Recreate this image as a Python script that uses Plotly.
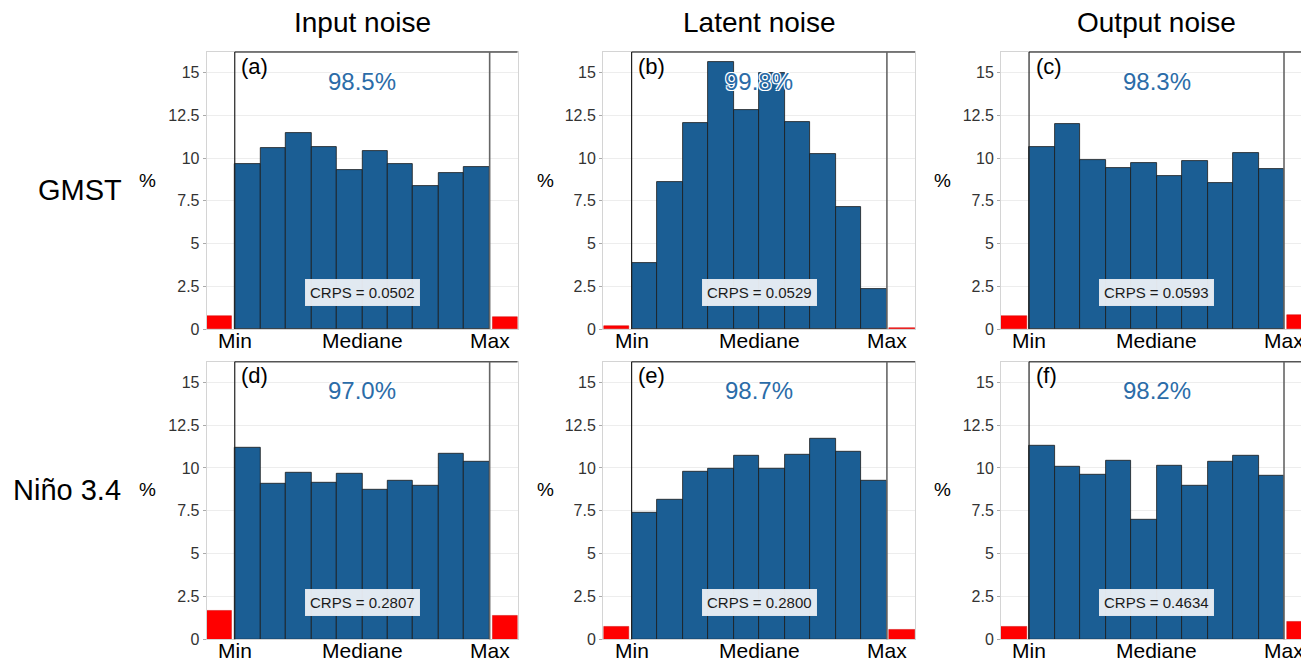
import plotly.graph_objects as go

# ---------------- data ----------------
col_titles = ["Input noise", "Latent noise", "Output noise"]
row_titles = ["GMST", "Niño 3.4"]
panel_tags = ["(a)", "(b)", "(c)", "(d)", "(e)", "(f)"]
x_tick_vals = [0, 5, 10]
x_tick_labels = ["Min", "Mediane", "Max"]
y_tick_vals = [0, 2.5, 5, 7.5, 10, 12.5, 15]
y_tick_text = ["0", "2.5", "5", "7.5", "10", "12.5", "15"]

gmst_input = [9.63, 10.60, 11.48, 10.66, 9.28, 10.39, 9.63, 8.34, 9.14, 9.49]
gmst_latent = [3.87, 8.61, 12.03, 15.64, 12.83, 15.00, 12.09, 10.25, 7.13, 2.34]
gmst_output = [10.64, 11.99, 9.90, 9.43, 9.71, 8.95, 9.84, 8.55, 10.27, 9.34]
nino_input = [11.17, 9.10, 9.75, 9.14, 9.67, 8.72, 9.24, 8.97, 10.82, 10.37]
nino_latent = [7.37, 8.17, 9.81, 9.96, 10.74, 9.96, 10.78, 11.69, 10.95, 9.24]
nino_output = [11.28, 10.10, 9.63, 10.45, 6.98, 10.16, 8.97, 10.35, 10.72, 9.55]

below_min = [0.78, 0.15, 0.78, 1.65, 0.76, 0.76]
above_max = [0.70, 0.05, 0.82, 1.38, 0.58, 1.01]
coverage = ["98.5%", "99.8%", "98.3%", "97.0%", "98.7%", "98.2%"]
crps = ["0.0502", "0.0529", "0.0593", "0.2807", "0.2800", "0.4634"]

panels = [gmst_input, gmst_latent, gmst_output, nino_input, nino_latent, nino_output]
bin_centers = [i + 0.5 for i in range(10)]

# ---------------- style / layout ----------------
FONT = "Liberation Sans, Arial, sans-serif"
BLUE = "#1b5e94"
PCT_BLUE = "#2b6ca8"
OFF = 8  # page body margin
W, H = 1309 - OFF, 662 - OFF


def fx(px):
    return (px - OFF) / W


def fy(py):
    return 1 - (py - OFF) / H


x_domains = [[fx(206.7), fx(517.7)], [fx(603), fx(915)], [fx(1001), 1.0]]
x_ranges = [[-1.1, 11.1], [-1.12, 11.1], [-1.1, 10.98]]
y_domains = [[fy(329), fy(52)], [fy(639.3), fy(361.7)]]
y_range = [0, 16.2]

fig = go.Figure()
shapes = []
annotations = []

for k, vals in enumerate(panels):
    r, c = divmod(k, 3)
    idx = "" if k == 0 else str(k + 1)
    xa, ya = "x" + idx, "y" + idx
    fig.add_trace(go.Bar(
        x=bin_centers, y=vals, width=1.0, xaxis=xa, yaxis=ya,
        marker=dict(color=BLUE, line=dict(color="#1a1a1a", width=0.8)),
        showlegend=False, hoverinfo="y"))
    fig.add_trace(go.Bar(
        x=[-0.6, 10.6], y=[below_min[k], above_max[k]], width=1.0,
        xaxis=xa, yaxis=ya,
        marker=dict(color="#ff0000", line=dict(color="#d00000", width=0.5)),
        showlegend=False, hoverinfo="y"))

    fig.layout["xaxis" + idx] = dict(
        domain=x_domains[c], range=x_ranges[c], anchor=ya, automargin=False,
        showticklabels=False, showgrid=False, zeroline=False, ticks="",
        showline=True, mirror=True, linecolor="#d4d4d4", linewidth=1)
    fig.layout["yaxis" + idx] = dict(
        domain=y_domains[r], range=y_range, anchor=xa, automargin=False,
        tickvals=y_tick_vals, ticktext=y_tick_text,
        tickfont=dict(size=16, color="#333", family=FONT),
        ticks="outside", ticklen=3, tickcolor="#aaa",
        showgrid=True, gridcolor="#ededed", gridwidth=1, zeroline=False,
        showline=True, mirror=True, linecolor="#d4d4d4", linewidth=1)

    # x tick labels placed right under the axis
    for tv, tl in zip(x_tick_vals, x_tick_labels):
        annotations.append(dict(xref=xa, yref=ya + " domain", x=tv, y=0, text=tl,
                                showarrow=False, xanchor="center", yanchor="top",
                                yshift=2,
                                font=dict(size=21, color="#000", family=FONT)))

    # top border (dark) and Min / Max lines
    shapes.append(dict(type="line", xref=xa, yref=ya + " domain",
                       x0=0, x1=x_ranges[c][1], y0=1, y1=1,
                       line=dict(color="#555", width=1.5)))
    shapes.append(dict(type="line", xref=xa, yref=ya + " domain",
                       x0=0, x1=0, y0=0, y1=1, line=dict(color="#222", width=1.2)))
    shapes.append(dict(type="line", xref=xa, yref=ya + " domain",
                       x0=10, x1=10, y0=0, y1=1, line=dict(color="#666", width=1.6)))

    annotations.append(dict(xref=xa, yref=ya, x=0.18, y=15.37, text=panel_tags[k],
                            showarrow=False, xanchor="left", yanchor="middle",
                            font=dict(size=22, color="#000", family=FONT)))
    annotations.append(dict(xref=xa, yref=ya, x=5, y=14.5, text=coverage[k],
                            showarrow=False, xanchor="center", yanchor="middle",
                            font=dict(size=24, color=PCT_BLUE, family=FONT,
                                      shadow="1px 1px 0 #fff, -1px -1px 0 #fff, 1px -1px 0 #fff, -1px 1px 0 #fff")))
    annotations.append(dict(xref=xa, yref=ya, x=5, y=2.15, text="CRPS = " + crps[k],
                            showarrow=False, xanchor="center", yanchor="middle",
                            bgcolor="rgba(236,240,245,0.95)", bordercolor="#dde4ec",
                            borderwidth=1, borderpad=4,
                            font=dict(size=15, color="#1a1a1a", family=FONT)))

# column titles
for c, t in enumerate(col_titles):
    idx = "" if c == 0 else str(c + 1)
    annotations.append(dict(xref="x" + idx, yref="paper", x=5, y=fy(23), text=t,
                            showarrow=False, xanchor="center", yanchor="middle",
                            font=dict(size=28, color="#000", family=FONT)))

# row titles
row_y = [fy(190), fy(490)]
row_x = [fx(80), fx(67)]
for r, t in enumerate(row_titles):
    annotations.append(dict(xref="paper", yref="paper", x=row_x[r], y=row_y[r], text=t,
                            showarrow=False, xanchor="center", yanchor="middle",
                            font=dict(size=29, color="#000", family=FONT)))

# "%" axis labels
pct_x = [fx(147), fx(545), fx(942)]
pct_y = [fy(180), fy(490)]
for r in range(2):
    for c in range(3):
        annotations.append(dict(xref="paper", yref="paper", x=pct_x[c], y=pct_y[r], text="%",
                                showarrow=False, xanchor="center", yanchor="middle",
                                font=dict(size=19, color="#000", family=FONT)))

fig.update_layout(
    template="none",
    width=W, height=H, autosize=False,
    margin=dict(l=0, r=0, t=0, b=0, pad=0, autoexpand=False),
    paper_bgcolor="white", plot_bgcolor="white",
    barmode="overlay", bargap=0, showlegend=False,
    shapes=shapes, annotations=annotations,
    font=dict(family=FONT),
)

fig.write_html("out.html")
